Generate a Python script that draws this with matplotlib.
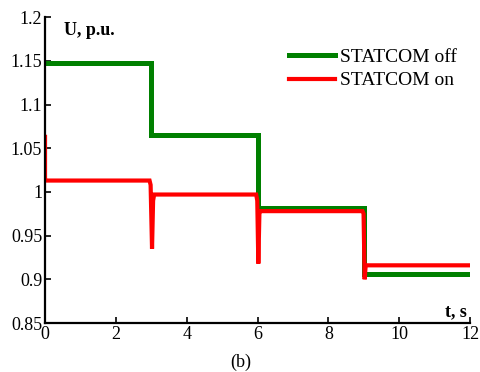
import matplotlib
matplotlib.use("Agg")
import matplotlib.pyplot as plt

plt.rcParams['font.family'] = ['Liberation Serif', 'DejaVu Serif']

# STATCOM off
t_off = [0.0, 3.0, 3.0, 6.0, 6.0, 9.0, 9.0, 12.0]
u_off = [1.148, 1.148, 1.065, 1.065, 0.982, 0.982, 0.906, 0.906]

# STATCOM on
t_on = [0.0, 0.0, 0.03, 2.95, 2.98, 3.02, 3.05, 3.08, 5.96, 5.99, 6.02, 6.05, 6.08, 8.96, 8.99, 9.02, 9.05, 12.0]
u_on = [1.063, 1.013, 1.013, 1.013, 1.008, 0.935, 0.99, 0.997, 0.997, 0.99, 0.918, 0.975, 0.978, 0.978, 0.975, 0.900, 0.916, 0.916]

xticks = [0, 2, 4, 6, 8, 10, 12]
yticks = [0.85, 0.9, 0.95, 1.0, 1.05, 1.1, 1.15, 1.2]
ytick_labels = ['0.85', '0.9', '0.95', '1', '1.05', '1.1', '1.15', '1.2']

fig = plt.figure(figsize=(4.81, 3.72), dpi=100)
ax = fig.add_axes([0.0936, 0.1317, 0.884, 0.8223])

ax.plot(t_off, u_off, color='#008000', lw=3.6, label='STATCOM off', solid_joinstyle='miter')
ax.plot(t_on, u_on, color='#ff0000', lw=3.0, label='STATCOM on', solid_joinstyle='miter')

ax.set_xlim(0, 12)
ax.set_ylim(0.85, 1.2)
ax.set_xticks(xticks)
ax.set_yticks(yticks)
ax.set_yticklabels(ytick_labels)
ax.tick_params(direction='in', length=4, width=1.2, labelsize=13, colors='black', pad=2)
for s in ['top', 'right']:
    ax.spines[s].set_visible(False)
for s in ['left', 'bottom']:
    ax.spines[s].set_linewidth(1.6)

ax.text(0.045, 0.985, 'U, p.u.', transform=ax.transAxes, fontsize=13, fontweight='bold', va='top')
ax.text(0.967, 0.008, 't, s', transform=ax.transAxes, fontsize=13, fontweight='bold', va='bottom', ha='center')

ax.legend(loc='upper right', bbox_to_anchor=(1.01, 0.955), frameon=False, fontsize=14,
          handlelength=2.4, handletextpad=0.25, labelspacing=0.3)

fig.text(0.5, 0.027, '(b)', ha='center', va='center', fontsize=13)

fig.savefig('out.png', dpi=100)
